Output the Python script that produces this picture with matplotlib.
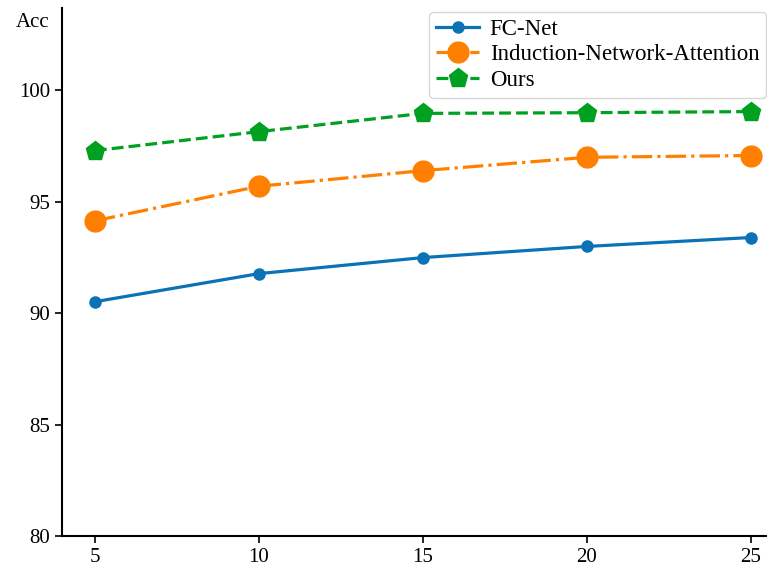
import matplotlib.pyplot as plt

plt.rcParams['font.family'] = ['Liberation Serif', 'DejaVu Serif']

shots = [5, 10, 15, 20, 25]
fc_net = [90.52, 91.78, 92.5, 93.0, 93.4]
induction = [94.15, 95.7, 96.4, 97.0, 97.08]
ours = [97.3, 98.15, 98.97, 99.0, 99.05]

fig = plt.figure(figsize=(7.67, 5.68), dpi=100)
ax = fig.add_axes([0.081, 0.056, 0.919, 0.930])

ax.plot(shots, fc_net, color='#0a72b5', lw=2.3, marker='o', ms=8, label='FC-Net')
ax.plot(shots, induction, color='#ff8000', lw=2.3, ls='-.', marker='o', ms=15,
        label='Induction-Network-Attention')
ax.plot(shots, ours, color='#00a020', lw=2.3, ls='--', marker='p', ms=14, label='Ours')

ax.set_xlim(4.0, 25.5)
ax.set_ylim(80, 103.7)
ax.set_xticks(shots)
ax.set_yticks([80, 85, 90, 95, 100])
ax.tick_params(labelsize=15, length=5, width=1.2)
ax.spines['top'].set_visible(False)
ax.spines['right'].set_visible(False)
ax.spines['left'].set_linewidth(1.5)
ax.spines['bottom'].set_linewidth(1.5)

fig.text(0.02, 0.96, 'Acc', fontsize=15, ha='left', va='center')

ax.legend(loc='upper right', fontsize=16.5, frameon=True,
          borderpad=0.3, labelspacing=0.2, handlelength=1.9, handletextpad=0.45,
          borderaxespad=0.0, bbox_to_anchor=(0.999, 0.993))

fig.savefig('out.png', dpi=100)
